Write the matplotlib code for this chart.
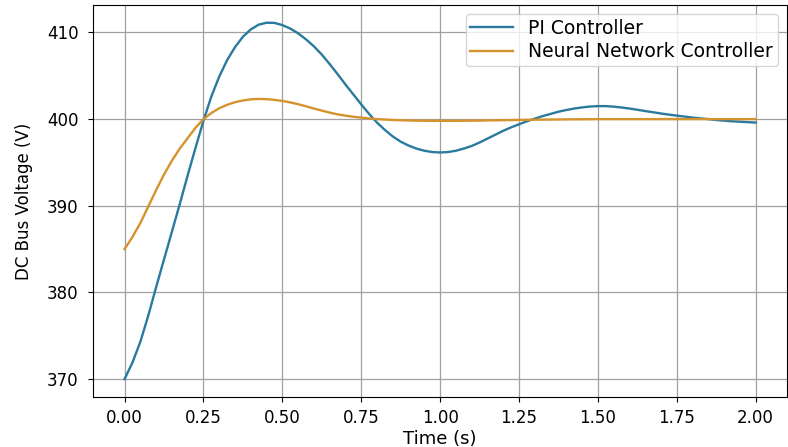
import matplotlib.pyplot as plt

# time axis (s), 25 ms steps
time = [0.000, 0.025, 0.050, 0.075, 0.100, 0.125, 0.150, 0.175, 0.200, 0.225,
        0.250, 0.275, 0.300, 0.325, 0.350, 0.375, 0.400, 0.425, 0.450, 0.475,
        0.500, 0.525, 0.550, 0.575, 0.600, 0.625, 0.650, 0.675, 0.700, 0.725,
        0.750, 0.775, 0.800, 0.825, 0.850, 0.875, 0.900, 0.925, 0.950, 0.975,
        1.000, 1.025, 1.050, 1.075, 1.100, 1.125, 1.150, 1.175, 1.200, 1.225,
        1.250, 1.275, 1.300, 1.325, 1.350, 1.375, 1.400, 1.425, 1.450, 1.475,
        1.500, 1.525, 1.550, 1.575, 1.600, 1.625, 1.650, 1.675, 1.700, 1.725,
        1.750, 1.775, 1.800, 1.825, 1.850, 1.875, 1.900, 1.925, 1.950, 1.975,
        2.000]

# DC bus voltage with the PI controller (V)
pi_voltage = [370.0, 371.9, 374.3, 377.3, 380.6, 383.8, 387.0, 390.2, 393.5, 396.7,
              399.8, 402.6, 404.9, 406.8, 408.3, 409.5, 410.35, 410.9, 411.12, 411.1,
              410.85, 410.45, 409.9, 409.2, 408.4, 407.45, 406.35, 405.2, 404.0, 402.85,
              401.7, 400.6, 399.6, 398.75, 398.0, 397.4, 396.95, 396.6, 396.35, 396.2,
              396.15, 396.2, 396.35, 396.6, 396.9, 397.3, 397.75, 398.2, 398.65, 399.05,
              399.4, 399.75, 400.05, 400.35, 400.6, 400.85, 401.05, 401.22, 401.35, 401.45,
              401.5, 401.5, 401.44, 401.34, 401.22, 401.08, 400.93, 400.79, 400.65, 400.52,
              400.4, 400.29, 400.18, 400.08, 400.0, 399.9, 399.82, 399.75, 399.7, 399.65,
              399.6]

# DC bus voltage with the neural network controller (V)
nn_voltage = [385.0, 386.4, 388.0, 389.9, 391.8, 393.6, 395.2, 396.6, 397.8, 399.0,
              400.0, 400.7, 401.25, 401.65, 401.95, 402.15, 402.28, 402.33, 402.3, 402.22,
              402.1, 401.93, 401.72, 401.48, 401.22, 400.98, 400.75, 400.55, 400.4, 400.27,
              400.17, 400.08, 400.0, 399.95, 399.9, 399.87, 399.84, 399.82, 399.81, 399.8,
              399.8, 399.8, 399.8, 399.81, 399.82, 399.83, 399.85, 399.86, 399.88, 399.89,
              399.9, 399.92, 399.93, 399.94, 399.95, 399.96, 399.97, 399.98, 399.98, 399.99,
              400.0, 400.0, 400.0, 400.0, 400.0, 400.0, 400.0, 400.0, 400.0, 400.0,
              400.0, 400.0, 400.0, 400.0, 400.0, 400.0, 400.0, 400.0, 400.0, 400.0,
              400.0]

fig = plt.figure(figsize=(7.88, 4.47), dpi=100)
ax = fig.add_axes([0.118, 0.112, 0.881, 0.877])

ax.plot(time, pi_voltage, color='#2a7a9e', linewidth=1.7, label='PI Controller')
ax.plot(time, nn_voltage, color='#d6922c', linewidth=1.7, label='Neural Network Controller')

ax.set_xlabel('Time (s)', fontsize=13, labelpad=2)
ax.set_ylabel('DC Bus Voltage (V)', fontsize=12, labelpad=10)
ax.set_xticks([0.0, 0.25, 0.5, 0.75, 1.0, 1.25, 1.5, 1.75, 2.0])
ax.set_yticks([370, 380, 390, 400, 410])
ax.tick_params(axis='x', labelsize=12, pad=5)
ax.tick_params(axis='y', labelsize=12, pad=7)
ax.grid(True, color='#a0a0a0', linewidth=0.9)
ax.legend(loc='upper right', fontsize=13.5, labelspacing=0.22, borderpad=0.25,
          handlelength=2.3)

fig.savefig('out.png', dpi=100)
